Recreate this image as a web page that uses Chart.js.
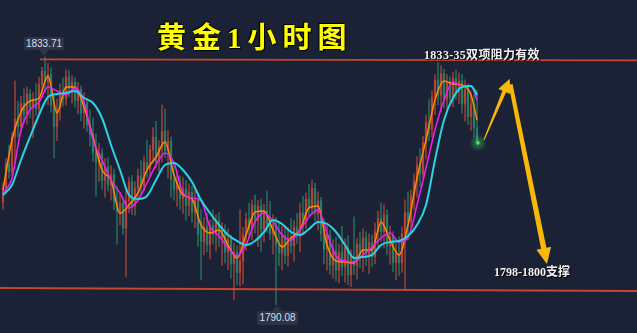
<!DOCTYPE html>
<html><head><meta charset="utf-8">
<script src="https://cdn.jsdelivr.net/npm/chart.js@4"></script>
<style>
html,body{margin:0;padding:0;background:#1b2236;}
#wrap{position:relative;width:637px;height:333px;overflow:hidden;background:#1b2236;}
#c{position:absolute;left:0;top:0;}
.t{position:absolute;white-space:nowrap;}
#title{left:157px;top:14px;font-weight:bold;font-size:29px;font-family:"Liberation Serif","Noto Sans CJK SC";color:#ffff00;letter-spacing:6px;text-shadow:1px 1px 1px #000,-1px -1px 1px #000;}
.note{font-weight:bold;font-size:12px;font-family:"Liberation Serif","Noto Sans CJK SC";color:#f2f2f2;text-shadow:1px 1px 1px #000;}
#n1{left:424px;top:45px;letter-spacing:0.3px;}
#n2{left:494px;top:262px;}
.lab{position:absolute;background:#2b3548;color:#d8dde8;font:10px "Liberation Sans",Arial,sans-serif;padding:0;text-align:center;border-radius:2px;}
#l1{left:24px;top:37px;width:40px;height:13px;line-height:13px;}
#l1:after{content:"";position:absolute;left:15px;top:13px;border-left:5px solid transparent;border-right:5px solid transparent;border-top:6px solid #2b3548;}
#l2{left:257px;top:311px;width:41px;height:14px;line-height:14px;}
#l2:after{content:"";position:absolute;left:15px;top:-5px;border-left:5px solid transparent;border-right:5px solid transparent;border-bottom:5px solid #2b3548;}
</style></head>
<body>
<div id="wrap">
<canvas id="c" width="637" height="333"></canvas>
<div class="t" id="title">黄金1小时图</div>
<div class="t note" id="n1">1833-35双项阻力有效</div>
<div class="t note" id="n2">1798-1800支撑</div>
<div class="lab" id="l1">1833.71</div>
<div class="lab" id="l2">1790.08</div>
</div>
<script>
// ---- candles (hourly) ----
const opens = [
1808.2,1810.6,1814.9,1813.5,1819.6,1822.8,1821.4,1825.5,1823.6,1827.2,
1824.8,1826.3,1824.6,1828.9,1831.2,1829.4,1830.6,1825.2,1821.5,1824.6,
1827.8,1826.4,1830.2,1828.2,1829.3,1826.1,1828.0,1823.9,1825.6,1821.8,
1820.1,1816.9,1815.2,1816.8,1812.0,1814.3,1811.2,1813.0,1808.3,1806.5,
1808.0,1803.6,1808.4,1811.7,1807.5,1810.6,1812.8,1811.0,1815.2,1814.1,
1817.4,1819.6,1815.3,1817.9,1820.6,1817.2,1818.9,1812.2,1810.4,1811.6,
1808.8,1810.5,1807.6,1809.9,1806.4,1808.5,1804.9,1801.2,1803.8,1800.7,
1804.1,1802.5,1805.0,1801.8,1803.1,1799.4,1801.6,1797.3,1799.4,1795.8,
1797.9,1802.5,1805.1,1803.4,1807.6,1805.0,1807.5,1803.4,1806.6,1804.3,
1802.6,1804.2,1800.6,1799.2,1802.3,1798.8,1801.9,1800.5,1803.7,1802.2,
1806.3,1804.6,1808.7,1807.1,1810.6,1806.2,1808.4,1802.6,1799.9,1802.4,
1797.1,1799.6,1796.2,1799.3,1796.8,1800.2,1795.4,1798.6,1797.0,1800.8,
1798.7,1801.9,1799.0,1801.1,1798.6,1803.0,1805.3,1803.0,1805.9,1800.4,
1802.2,1797.6,1799.1,1797.5,1802.6,1806.3,1804.8,1809.4,1811.9,1814.7,
1813.1,1818.6,1822.2,1821.0,1826.7,1829.6,1827.0,1830.8,1826.3,1829.4,
1826.6,1830.0,1827.5,1829.5,1825.4,1828.0,1823.2,1825.5,1821.3];
const highs = [
1811.5,1815.8,1818.2,1820.4,1829.5,1825.9,1826.8,1828.1,1828.4,1828.0,
1827.5,1829.0,1830.2,1831.9,1833.71,1832.6,1831.8,1827.0,1826.3,1829.0,
1830.0,1831.5,1831.3,1830.4,1830.1,1829.2,1828.6,1827.4,1826.5,1824.4,
1823.0,1820.2,1818.5,1817.6,1815.9,1816.0,1814.6,1814.0,1811.0,1809.9,
1809.0,1810.5,1812.6,1812.9,1811.8,1814.0,1815.5,1816.3,1819.1,1818.2,
1821.3,1822.4,1819.0,1825.3,1824.6,1820.8,1819.6,1815.0,1813.6,1812.8,
1812.5,1812.0,1811.4,1811.0,1810.8,1809.5,1806.9,1805.5,1806.2,1805.0,
1806.8,1806.0,1806.4,1804.6,1804.2,1803.5,1802.4,1801.0,1800.5,1806.8,
1803.8,1806.3,1808.0,1808.6,1809.4,1808.5,1808.7,1807.8,1810.1,1808.3,
1806.0,1805.5,1804.4,1803.9,1804.0,1803.7,1805.3,1804.9,1806.2,1808.0,
1809.2,1809.8,1811.3,1812.1,1811.5,1810.0,1809.0,1805.3,1804.0,1803.2,
1801.6,1802.0,1800.8,1803.9,1801.7,1802.3,1799.8,1805.6,1801.8,1802.9,
1803.5,1803.0,1802.6,1802.4,1804.5,1806.6,1808.0,1807.7,1806.8,1803.9,
1803.0,1800.9,1802.1,1803.8,1808.6,1810.0,1810.3,1813.1,1816.2,1817.6,
1819.8,1823.5,1826.2,1827.8,1830.6,1832.7,1832.2,1831.6,1830.6,1830.3,
1831.0,1831.4,1830.9,1830.6,1829.7,1829.0,1827.6,1827.0,1827.9];
const lows = [
1806.9,1809.8,1812.4,1812.8,1815.0,1819.7,1820.3,1822.2,1821.9,1823.0,
1819.5,1823.4,1823.8,1826.5,1827.5,1825.3,1824.0,1816.0,1819.0,1822.6,
1825.0,1825.3,1826.7,1825.6,1824.9,1823.7,1822.5,1821.2,1820.6,1818.0,
1815.4,1809.2,1811.8,1810.4,1809.0,1810.1,1808.5,1806.8,1800.8,1804.2,
1802.5,1795.0,1806.3,1806.0,1805.9,1808.2,1809.6,1810.2,1812.5,1812.8,
1815.0,1814.2,1813.5,1815.2,1816.0,1812.4,1809.0,1808.5,1807.4,1806.9,
1806.2,1805.0,1805.8,1804.6,1803.7,1800.4,1794.5,1798.9,1799.4,1798.2,
1800.9,1799.6,1800.3,1797.0,1797.5,1796.3,1794.8,1791.0,1793.6,1793.4,
1793.8,1799.7,1801.8,1801.5,1802.7,1800.4,1799.5,1801.2,1802.9,1801.6,
1799.0,1790.08,1797.0,1796.3,1797.4,1796.9,1799.2,1797.8,1800.9,1799.4,
1802.8,1803.5,1805.8,1806.0,1804.9,1803.3,1801.4,1797.4,1796.2,1795.5,
1794.8,1794.3,1794.0,1795.2,1794.1,1793.6,1793.3,1795.4,1794.6,1796.6,
1795.9,1797.0,1795.6,1796.8,1797.3,1800.4,1801.2,1800.1,1798.9,1797.2,
1796.0,1794.5,1795.3,1795.8,1792.7,1801.5,1803.4,1806.8,1809.0,1810.9,
1812.3,1815.8,1819.0,1819.6,1823.5,1825.3,1824.0,1824.8,1824.2,1825.4,
1824.9,1826.2,1825.5,1823.8,1822.4,1821.8,1820.8,1819.6,1818.6];
const closes = [
1810.6,1814.9,1813.5,1819.6,1822.8,1821.4,1825.5,1823.6,1827.2,1824.8,
1826.3,1824.6,1828.9,1831.2,1829.4,1830.6,1825.2,1821.5,1824.6,1827.8,
1826.4,1830.2,1828.2,1829.3,1826.1,1828.0,1823.9,1825.6,1821.8,1820.1,
1816.9,1815.2,1816.8,1812.0,1814.3,1811.2,1813.0,1808.3,1806.5,1808.0,
1803.6,1808.4,1811.7,1807.5,1810.6,1812.8,1811.0,1815.2,1814.1,1817.4,
1819.6,1815.3,1817.9,1820.6,1817.2,1818.9,1812.2,1810.4,1811.6,1808.8,
1810.5,1807.6,1809.9,1806.4,1808.5,1802.6,1801.2,1803.8,1800.7,1804.1,
1802.5,1805.0,1801.8,1803.1,1799.4,1801.6,1797.3,1799.4,1795.8,1797.9,
1802.5,1805.1,1803.4,1807.6,1805.0,1807.5,1803.4,1806.6,1804.3,1802.6,
1804.2,1800.6,1799.2,1802.3,1798.8,1801.9,1800.5,1803.7,1802.2,1806.3,
1804.6,1808.7,1807.1,1810.6,1806.2,1808.4,1802.6,1799.9,1802.4,1797.1,
1799.6,1796.2,1799.3,1796.8,1800.2,1795.4,1798.6,1797.0,1800.8,1798.7,
1801.9,1799.0,1801.1,1798.6,1803.0,1805.3,1803.0,1805.9,1800.4,1802.2,
1797.6,1799.1,1797.5,1802.6,1806.3,1804.8,1809.4,1811.9,1814.7,1813.1,
1818.6,1822.2,1821.0,1826.7,1829.6,1827.0,1830.8,1826.3,1829.4,1826.6,
1830.0,1827.5,1829.5,1825.4,1828.0,1823.2,1825.5,1821.3,1818.6];

// ---- moving averages (sampled at candle index) ----
const maIdx = [0,3,6,9,12,15,18,21,24,27,30,33,36,39,42,45,48,51,54,57,60,63,66,69,72,75,78,81,84,87,
90,93,96,99,102,105,108,111,114,117,120,123,126,129,132,135,138,141,144,147,150,153,156,158];
const maFast = [
1810.32,1819.11,1824.04,1825.97,1826.50,1830.37,1823.86,1828.43,1828.43,1824.92,
1819.64,1813.83,1812.07,1806.20,1807.67,1809.79,1813.83,1816.12,1818.76,1812.95,
1809.43,1808.73,1804.16,1802.75,1803.28,1800.64,1798.35,1802.40,1806.44,1806.62,
1803.28,1800.29,1801.87,1803.28,1807.15,1807.50,1800.64,1797.82,1797.65,1797.47,
1799.76,1799.76,1804.69,1801.52,1798.88,1804.16,1812.42,1819.11,1826.15,1829.49,
1828.96,1828.78,1827.03,1822.63];
const maMid = [
1809.79,1812.42,1820.87,1824.39,1825.80,1828.43,1827.73,1827.03,1828.26,1825.80,
1819.11,1815.59,1812.07,1809.79,1807.15,1808.55,1811.54,1814.71,1816.82,1815.06,
1809.79,1808.91,1808.38,1803.80,1802.22,1800.11,1798.70,1800.64,1804.69,1806.27,
1804.86,1802.40,1801.52,1803.28,1805.56,1806.80,1802.75,1798.70,1797.82,1797.65,
1798.88,1800.29,1801.87,1802.75,1801.17,1801.87,1807.67,1814.18,1820.87,1826.15,
1829.31,1828.61,1828.61,1826.15];
const maSlow = [
1809.43,1811.19,1815.59,1819.64,1823.51,1826.68,1827.21,1827.38,1827.73,1826.50,
1825.62,1822.98,1818.23,1813.83,1809.43,1808.73,1809.26,1812.07,1814.71,1815.06,
1813.83,1811.72,1808.55,1806.26,1804.16,1802.40,1801.34,1800.64,1801.34,1802.92,
1805.04,1804.33,1802.92,1802.40,1803.45,1804.69,1804.33,1802.92,1800.64,1798.35,
1798.53,1798.88,1800.64,1801.17,1801.34,1802.22,1804.16,1807.67,1815.59,1822.63,
1826.50,1828.43,1828.61,1827.03];

// ---- levels & annotations (data space) ----
const resistX = [12.3, 211.3], resistY = [1833.3, 1833.1];
const supportX = [-1, 211.3], supportY = [1793.07, 1792.54];
const arrowUp = {x0:160.3, y0:1819.1, x1:168.9, y1:1829.9};
const arrowDown = {x0:169.2, y0:1828.9, x1:181.3, y1:1797.3};

const idx = closes.map((_, i) => i);
const UP = 'rgba(178,72,58,0.95)', DN = 'rgba(42,128,102,0.95)';
const UPW = 'rgba(178,72,58,0.75)', DNW = 'rgba(42,128,102,0.75)';
const colB = idx.map(i => closes[i] >= opens[i] ? UP : DN);
const colW = idx.map(i => closes[i] >= opens[i] ? UPW : DNW);

const pts = arr => maIdx.map((x, k) => ({x, y: arr[k]}));
const lineDs = (arr, color, w) => ({
  type:'line', data: pts(arr), borderColor: color, borderWidth: w,
  pointRadius:0, tension:0.4, cubicInterpolationMode:'monotone', order:1
});

const arrowPlugin = {
  id:'arrows',
  afterDatasetsDraw(chart){
    const c = chart.ctx, xs = chart.scales.x, ys = chart.scales.y;
    function arrow(a, w0, w1, hl, hw){
      const x0 = xs.getPixelForValue(a.x0), y0 = ys.getPixelForValue(a.y0);
      const x1 = xs.getPixelForValue(a.x1), y1 = ys.getPixelForValue(a.y1);
      const dx = x1-x0, dy = y1-y0, L = Math.hypot(dx,dy), ux = dx/L, uy = dy/L;
      const nx = -uy, ny = ux;
      const bx = x1-ux*hl, by = y1-uy*hl;
      c.save();
      c.fillStyle = '#f9b807';
      c.beginPath();
      c.moveTo(x0+nx*w0/2, y0+ny*w0/2);
      c.lineTo(bx+nx*w1/2, by+ny*w1/2);
      c.lineTo(bx+nx*hw, by+ny*hw);
      c.lineTo(x1, y1);
      c.lineTo(bx-nx*hw, by-ny*hw);
      c.lineTo(bx-nx*w1/2, by-ny*w1/2);
      c.lineTo(x0-nx*w0/2, y0-ny*w0/2);
      c.closePath();
      c.fill();
      c.restore();
    }
    arrow(arrowUp, 1, 4, 14, 6.5);
    arrow(arrowDown, 4, 5.5, 16, 7.5);
    // glow on last close
    const lx = xs.getPixelForValue(idx.length-1+0.3), ly = ys.getPixelForValue(closes[closes.length-1]);
    const g = c.createRadialGradient(lx,ly,0,lx,ly,9);
    g.addColorStop(0,'rgba(60,210,90,0.55)'); g.addColorStop(1,'rgba(60,210,90,0)');
    c.save(); c.fillStyle=g; c.beginPath(); c.arc(lx,ly,9,0,Math.PI*2); c.fill();
    c.fillStyle='#4be06a'; c.beginPath(); c.arc(lx,ly,1.8,0,Math.PI*2); c.fill(); c.restore();
  }
};

new Chart(document.getElementById('c'), {
  data: { datasets: [
    {type:'bar', data: idx.map(i => ({x:i, y:[lows[i], highs[i]]})), backgroundColor: colW,
     barThickness:1, grouped:false, order:5},
    {type:'bar', data: idx.map(i => ({x:i, y:[opens[i], closes[i]]})), backgroundColor: colB,
     barThickness:1.6, grouped:false, order:4, minBarLength:1},
    lineDs(maSlow, '#2ad4e6', 2),
    lineDs(maMid, '#f01ef0', 1.5),
    lineDs(maFast, '#ff8a00', 1.5),
    {type:'line', data: resistX.map((x,k)=>({x, y:resistY[k]})), borderColor:'#c9452e', borderWidth:1.8, pointRadius:0, order:0},
    {type:'line', data: supportX.map((x,k)=>({x, y:supportY[k]})), borderColor:'#c9452e', borderWidth:1.8, pointRadius:0, order:0}
  ]},
  options: {
    responsive:false, animation:false,
    layout:{padding:0},
    plugins:{legend:{display:false}, tooltip:{enabled:false}},
    scales:{
      x:{type:'linear', min:-1, max:211.33, display:false, offset:false, bounds:'data'},
      y:{min:1785.15, max:1843.74, display:false}
    }
  },
  plugins:[arrowPlugin]
});
</script>
</body></html>
